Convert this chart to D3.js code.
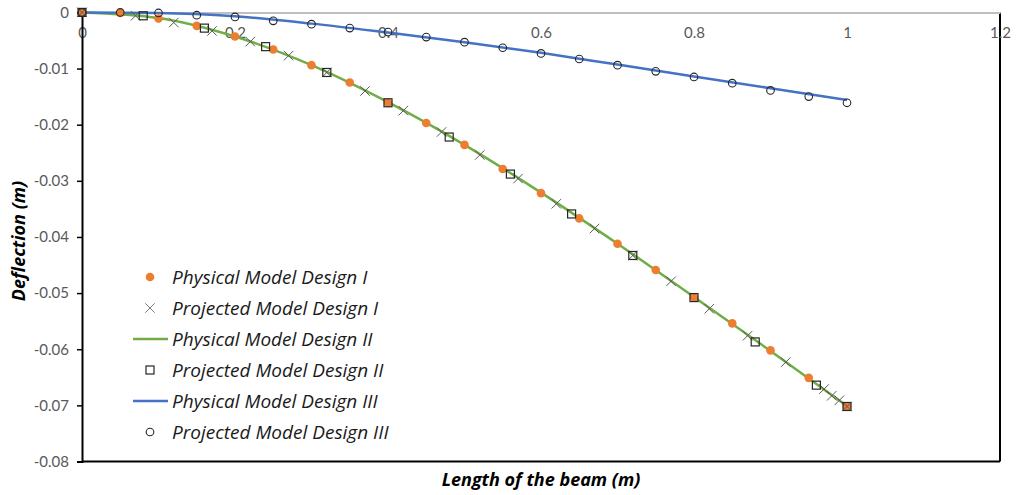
<!DOCTYPE html>
<html>
<head>
<meta charset="utf-8">
<script src="https://cdn.jsdelivr.net/npm/d3@7"></script>
<style>
  body { margin: 0; background: #fff; }
  svg { display: block; font-family: Lato, "Open Sans", sans-serif; }
</style>
</head>
<body>
<div id="chart"></div>
<script>
// valores (deflexion en m)
var xFisico1 = [0, 0.05, 0.1, 0.15, 0.2, 0.25, 0.3, 0.35, 0.4, 0.45, 0.5, 0.55, 0.6, 0.65, 0.7, 0.75, 0.8, 0.85, 0.9, 0.95, 1.0];
var yFisico1 = [0, -0.0001, -0.0011, -0.0024, -0.0043, -0.0066, -0.0094, -0.0125, -0.0161, -0.0197, -0.0236, -0.0279, -0.0322, -0.0367, -0.0412, -0.0459, -0.0508, -0.0554, -0.0602, -0.0651, -0.0702];

var xProyectado1 = [0, 0.07, 0.12, 0.17, 0.22, 0.27, 0.32, 0.37, 0.42, 0.47, 0.52, 0.57, 0.62, 0.67, 0.72, 0.77, 0.82, 0.87, 0.92, 0.97, 0.98, 0.99, 1.0];
var yProyectado1 = [0, -0.0006, -0.0018, -0.0033, -0.0052, -0.0077, -0.0107, -0.0140, -0.0175, -0.0213, -0.0254, -0.0296, -0.0341, -0.0385, -0.0433, -0.0479, -0.0528, -0.0576, -0.0623, -0.0671, -0.0683, -0.0691, -0.0702];

var xFisico2 = [0, 0.1, 0.2, 0.3, 0.4, 0.5, 0.6, 0.7, 0.8, 0.9, 1.0];
var yFisico2 = [0, -0.0010, -0.0043, -0.0094, -0.0160, -0.0236, -0.0321, -0.0412, -0.0507, -0.0603, -0.0701];

var xProyectado2 = [0, 0.08, 0.16, 0.24, 0.32, 0.4, 0.48, 0.56, 0.64, 0.72, 0.8, 0.88, 0.96, 1.0];
var yProyectado2 = [0, -0.0006, -0.0028, -0.0061, -0.0107, -0.0161, -0.0222, -0.0288, -0.0359, -0.0433, -0.0508, -0.0587, -0.0664, -0.0702];

var xFisico3 = [0, 0.1, 0.2, 0.3, 0.4, 0.5, 0.6, 0.7, 0.8, 0.9, 1.0];
var yFisico3 = [0, -0.0001, -0.0007, -0.0020, -0.0036, -0.0053, -0.0072, -0.0093, -0.0114, -0.0135, -0.0156];

var xProyectado3 = [0, 0.05, 0.1, 0.15, 0.2, 0.25, 0.3, 0.35, 0.4, 0.45, 0.5, 0.55, 0.6, 0.65, 0.7, 0.75, 0.8, 0.85, 0.9, 0.95, 1.0];
var yProyectado3 = [0, 0, -0.0001, -0.0005, -0.0008, -0.0015, -0.0021, -0.0028, -0.0035, -0.0044, -0.0053, -0.0063, -0.0073, -0.0083, -0.0094, -0.0105, -0.0115, -0.0126, -0.0139, -0.0150, -0.0161];

var ticksX = [0, 0.2, 0.4, 0.6, 0.8, 1, 1.2];
var ticksY = [0, -0.01, -0.02, -0.03, -0.04, -0.05, -0.06, -0.07, -0.08];

var nombresLeyenda = [
    "Physical Model Design I",
    "Projected Model Design I",
    "Physical Model Design II",
    "Projected Model Design II",
    "Physical Model Design III",
    "Projected Model Design III"
];

var naranja = "#ED7D31", verde = "#70AD47", azul = "#4472C4";

function juntar(xs, ys) {
    return xs.map(function (x, i) { return { x: x, y: ys[i] }; });
}

var width = 1016, height = 495;
var svg = d3.select("#chart").append("svg")
    .attr("width", width)
    .attr("height", height);

var x = d3.scaleLinear().domain([0, 1.2]).range([82, 1000]);
var y = d3.scaleLinear().domain([-0.08, 0]).range([461.5, 12.4]);

// borde del area
svg.append("line").attr("x1", 1000).attr("x2", 1000).attr("y1", y(0)).attr("y2", y(-0.08))
    .style("stroke", "#000").style("stroke-width", 2);
svg.append("line").attr("x1", x(0)).attr("x2", x(1.2)).attr("y1", y(-0.08)).attr("y2", y(-0.08))
    .style("stroke", "#000").style("stroke-width", 2);

// eje x (en y = 0)
var ejeX = svg.append("g")
    .attr("transform", "translate(0," + y(0) + ")")
    .call(d3.axisBottom(x).tickValues(ticksX).tickSize(0).tickPadding(15)
        .tickFormat(function (d) { return String(d); }));
ejeX.select(".domain").style("stroke", "#bfbfbf").style("stroke-width", 2);
ejeX.selectAll("text").style("font-size", "15px").style("fill", "#595959")
    .style("font-family", "Lato, sans-serif");

// eje y
var ejeY = svg.append("g")
    .attr("transform", "translate(" + x(0) + ",0)")
    .call(d3.axisLeft(y).tickValues(ticksY).tickSize(5).tickPadding(8)
        .tickFormat(function (d) { return d === 0 ? "0" : String(d); }));
ejeY.select(".domain").style("stroke", "#000").style("stroke-width", 2);
ejeY.selectAll(".tick line").style("stroke", "#000").style("stroke-width", 1.5);
ejeY.selectAll("text").style("font-size", "15px").style("fill", "#595959")
    .style("font-family", "Lato, sans-serif");

// titulos
svg.append("text")
    .attr("x", 541).attr("y", 486)
    .attr("text-anchor", "middle")
    .style("font-family", "'Open Sans', sans-serif")
    .style("font-size", "18px").style("font-weight", "bold").style("font-style", "italic")
    .text("Length of the beam (m)");
svg.append("text")
    .attr("transform", "translate(25,241) rotate(-90)")
    .attr("text-anchor", "middle")
    .style("font-family", "'Open Sans', sans-serif")
    .style("font-size", "18px").style("font-weight", "bold").style("font-style", "italic")
    .text("Deflection (m)");

// lineas
var linea = d3.line()
    .x(function (d) { return x(d.x); })
    .y(function (d) { return y(d.y); })
    .curve(d3.curveMonotoneX);

svg.append("path").datum(juntar(xFisico2, yFisico2))
    .attr("d", linea).style("fill", "none").style("stroke", verde).style("stroke-width", 2.5);
svg.append("path").datum(juntar(xFisico3, yFisico3))
    .attr("d", linea).style("fill", "none").style("stroke", azul).style("stroke-width", 2.5);

// marcadores
var simboloX = d3.symbol().type(d3.symbolX).size(60);

svg.selectAll(".fisico1")
    .data(juntar(xFisico1, yFisico1))
    .enter().append("circle")
    .attr("class", "fisico1")
    .attr("cx", function (d) { return x(d.x); })
    .attr("cy", function (d) { return y(d.y); })
    .attr("r", 4.3)
    .style("fill", naranja);

svg.selectAll(".proyectado1")
    .data(juntar(xProyectado1, yProyectado1))
    .enter().append("path")
    .attr("class", "proyectado1")
    .attr("transform", function (d) { return "translate(" + x(d.x) + "," + y(d.y) + ")"; })
    .attr("d", simboloX)
    .style("fill", "none").style("stroke", "#5a5a5a").style("stroke-width", 1);

svg.selectAll(".proyectado2")
    .data(juntar(xProyectado2, yProyectado2))
    .enter().append("rect")
    .attr("class", "proyectado2")
    .attr("x", function (d) { return x(d.x) - 4; })
    .attr("y", function (d) { return y(d.y) - 4; })
    .attr("width", 8).attr("height", 8)
    .style("fill", "none").style("stroke", "#262626").style("stroke-width", 1.2);

svg.selectAll(".proyectado3")
    .data(juntar(xProyectado3, yProyectado3))
    .enter().append("circle")
    .attr("class", "proyectado3")
    .attr("cx", function (d) { return x(d.x); })
    .attr("cy", function (d) { return y(d.y); })
    .attr("r", 3.8)
    .style("fill", "none").style("stroke", "#262626").style("stroke-width", 1.1);

// leyenda
var leyenda = svg.append("g").attr("class", "leyenda");
nombresLeyenda.forEach(function (nombre, i) {
    var fy = 277 + i * 31;
    var g = leyenda.append("g").attr("transform", "translate(150," + fy + ")");
    if (i === 0) {
        g.append("circle").attr("r", 4.3).style("fill", naranja);
    } else if (i === 1) {
        g.append("path").attr("d", simboloX).style("fill", "none").style("stroke", "#7a7a7a").style("stroke-width", 1);
    } else if (i === 2 || i === 4) {
        g.append("line").attr("x1", -17).attr("x2", 18)
            .style("stroke", i === 2 ? verde : azul).style("stroke-width", 2.5);
    } else if (i === 3) {
        g.append("rect").attr("x", -4).attr("y", -4).attr("width", 8).attr("height", 8)
            .style("fill", "none").style("stroke", "#262626").style("stroke-width", 1.2);
    } else {
        g.append("circle").attr("r", 3.8).style("fill", "none").style("stroke", "#262626").style("stroke-width", 1.1);
    }
    g.append("text")
        .attr("x", 22).attr("dy", "0.36em")
        .style("font-family", "'Open Sans', sans-serif")
        .style("font-size", "19px").style("font-style", "italic").style("fill", "#1a1a1a")
        .text(nombre);
});
</script>
</body>
</html>
